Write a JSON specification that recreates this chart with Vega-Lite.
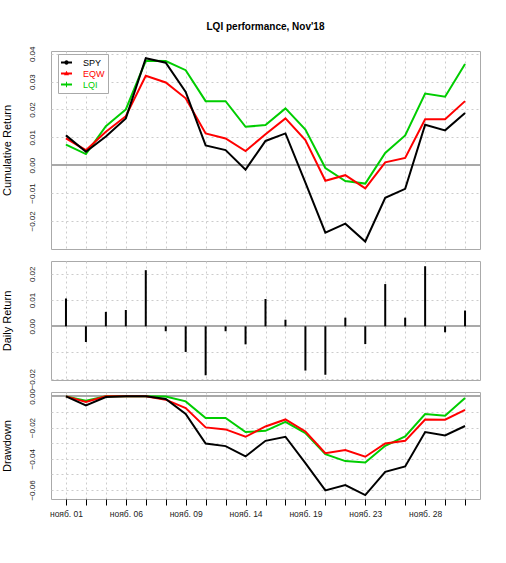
{
  "$schema": "https://vega.github.io/schema/vega-lite/v6.json",
  "autosize": {"type": "pad"},
  "padding": {"left": 0, "top": 22, "right": 5, "bottom": 5},
  "bounds": "flush",
  "spacing": 12,
  "title": {"text": "LQI performance, Nov'18", "fontSize": 10, "fontWeight": "bold", "anchor": "middle", "frame": "group", "offset": 13, "color": "#000000"},
  "datasets": {
    "cum": [
      {"d": "нояб. 01", "s": "LQI", "v": 0.0074}, {"d": "нояб. 02", "s": "LQI", "v": 0.004}, {"d": "нояб. 05", "s": "LQI", "v": 0.014}, {"d": "нояб. 06", "s": "LQI", "v": 0.02}, {"d": "нояб. 07", "s": "LQI", "v": 0.0375}, {"d": "нояб. 08", "s": "LQI", "v": 0.0374}, {"d": "нояб. 09", "s": "LQI", "v": 0.0341}, {"d": "нояб. 12", "s": "LQI", "v": 0.023}, {"d": "нояб. 13", "s": "LQI", "v": 0.023}, {"d": "нояб. 14", "s": "LQI", "v": 0.0138}, {"d": "нояб. 15", "s": "LQI", "v": 0.0144}, {"d": "нояб. 16", "s": "LQI", "v": 0.0204}, {"d": "нояб. 19", "s": "LQI", "v": 0.0128}, {"d": "нояб. 20", "s": "LQI", "v": -0.001}, {"d": "нояб. 21", "s": "LQI", "v": -0.0057}, {"d": "нояб. 23", "s": "LQI", "v": -0.0066}, {"d": "нояб. 26", "s": "LQI", "v": 0.0044}, {"d": "нояб. 27", "s": "LQI", "v": 0.0107}, {"d": "нояб. 28", "s": "LQI", "v": 0.0257}, {"d": "нояб. 29", "s": "LQI", "v": 0.0246}, {"d": "нояб. 30", "s": "LQI", "v": 0.0363},
      {"d": "нояб. 01", "s": "EQW", "v": 0.0096}, {"d": "нояб. 02", "s": "EQW", "v": 0.0054}, {"d": "нояб. 05", "s": "EQW", "v": 0.012}, {"d": "нояб. 06", "s": "EQW", "v": 0.0176}, {"d": "нояб. 07", "s": "EQW", "v": 0.0321}, {"d": "нояб. 08", "s": "EQW", "v": 0.0297}, {"d": "нояб. 09", "s": "EQW", "v": 0.024}, {"d": "нояб. 12", "s": "EQW", "v": 0.0114}, {"d": "нояб. 13", "s": "EQW", "v": 0.0096}, {"d": "нояб. 14", "s": "EQW", "v": 0.0051}, {"d": "нояб. 15", "s": "EQW", "v": 0.0111}, {"d": "нояб. 16", "s": "EQW", "v": 0.0168}, {"d": "нояб. 19", "s": "EQW", "v": 0.009}, {"d": "нояб. 20", "s": "EQW", "v": -0.0056}, {"d": "нояб. 21", "s": "EQW", "v": -0.0036}, {"d": "нояб. 23", "s": "EQW", "v": -0.0083}, {"d": "нояб. 26", "s": "EQW", "v": 0.001}, {"d": "нояб. 27", "s": "EQW", "v": 0.0026}, {"d": "нояб. 28", "s": "EQW", "v": 0.0165}, {"d": "нояб. 29", "s": "EQW", "v": 0.0165}, {"d": "нояб. 30", "s": "EQW", "v": 0.023},
      {"d": "нояб. 01", "s": "SPY", "v": 0.0107}, {"d": "нояб. 02", "s": "SPY", "v": 0.0048}, {"d": "нояб. 05", "s": "SPY", "v": 0.0103}, {"d": "нояб. 06", "s": "SPY", "v": 0.0168}, {"d": "нояб. 07", "s": "SPY", "v": 0.0384}, {"d": "нояб. 08", "s": "SPY", "v": 0.0368}, {"d": "нояб. 09", "s": "SPY", "v": 0.0263}, {"d": "нояб. 12", "s": "SPY", "v": 0.0071}, {"d": "нояб. 13", "s": "SPY", "v": 0.0054}, {"d": "нояб. 14", "s": "SPY", "v": -0.0016}, {"d": "нояб. 15", "s": "SPY", "v": 0.0087}, {"d": "нояб. 16", "s": "SPY", "v": 0.0114}, {"d": "нояб. 19", "s": "SPY", "v": -0.0063}, {"d": "нояб. 20", "s": "SPY", "v": -0.0242}, {"d": "нояб. 21", "s": "SPY", "v": -0.021}, {"d": "нояб. 23", "s": "SPY", "v": -0.0274}, {"d": "нояб. 26", "s": "SPY", "v": -0.0117}, {"d": "нояб. 27", "s": "SPY", "v": -0.0085}, {"d": "нояб. 28", "s": "SPY", "v": 0.0145}, {"d": "нояб. 29", "s": "SPY", "v": 0.0125}, {"d": "нояб. 30", "s": "SPY", "v": 0.0187}
    ],
    "daily": [
      {"d": "нояб. 01", "v": 0.0106}, {"d": "нояб. 02", "v": -0.006}, {"d": "нояб. 05", "v": 0.0055}, {"d": "нояб. 06", "v": 0.0062}, {"d": "нояб. 07", "v": 0.0214}, {"d": "нояб. 08", "v": -0.0019}, {"d": "нояб. 09", "v": -0.0098}, {"d": "нояб. 12", "v": -0.0187}, {"d": "нояб. 13", "v": -0.0019}, {"d": "нояб. 14", "v": -0.0069}, {"d": "нояб. 15", "v": 0.0104}, {"d": "нояб. 16", "v": 0.0025}, {"d": "нояб. 19", "v": -0.0169}, {"d": "нояб. 20", "v": -0.0185}, {"d": "нояб. 21", "v": 0.0033}, {"d": "нояб. 23", "v": -0.0068}, {"d": "нояб. 26", "v": 0.0161}, {"d": "нояб. 27", "v": 0.0033}, {"d": "нояб. 28", "v": 0.0229}, {"d": "нояб. 29", "v": -0.0023}, {"d": "нояб. 30", "v": 0.006}
    ],
    "dd": [
      {"d": "нояб. 01", "s": "LQI", "v": 0}, {"d": "нояб. 02", "s": "LQI", "v": -0.0028}, {"d": "нояб. 05", "s": "LQI", "v": 0}, {"d": "нояб. 06", "s": "LQI", "v": 0}, {"d": "нояб. 07", "s": "LQI", "v": 0}, {"d": "нояб. 08", "s": "LQI", "v": -0.0001}, {"d": "нояб. 09", "s": "LQI", "v": -0.0032}, {"d": "нояб. 12", "s": "LQI", "v": -0.0139}, {"d": "нояб. 13", "s": "LQI", "v": -0.0139}, {"d": "нояб. 14", "s": "LQI", "v": -0.0229}, {"d": "нояб. 15", "s": "LQI", "v": -0.0221}, {"d": "нояб. 16", "s": "LQI", "v": -0.0163}, {"d": "нояб. 19", "s": "LQI", "v": -0.0235}, {"d": "нояб. 20", "s": "LQI", "v": -0.037}, {"d": "нояб. 21", "s": "LQI", "v": -0.0415}, {"d": "нояб. 23", "s": "LQI", "v": -0.0424}, {"d": "нояб. 26", "s": "LQI", "v": -0.0317}, {"d": "нояб. 27", "s": "LQI", "v": -0.0257}, {"d": "нояб. 28", "s": "LQI", "v": -0.0113}, {"d": "нояб. 29", "s": "LQI", "v": -0.0124}, {"d": "нояб. 30", "s": "LQI", "v": -0.0011},
      {"d": "нояб. 01", "s": "EQW", "v": 0}, {"d": "нояб. 02", "s": "EQW", "v": -0.0036}, {"d": "нояб. 05", "s": "EQW", "v": 0}, {"d": "нояб. 06", "s": "EQW", "v": 0}, {"d": "нояб. 07", "s": "EQW", "v": 0}, {"d": "нояб. 08", "s": "EQW", "v": -0.0021}, {"d": "нояб. 09", "s": "EQW", "v": -0.0075}, {"d": "нояб. 12", "s": "EQW", "v": -0.0199}, {"d": "нояб. 13", "s": "EQW", "v": -0.0212}, {"d": "нояб. 14", "s": "EQW", "v": -0.0259}, {"d": "нояб. 15", "s": "EQW", "v": -0.0193}, {"d": "нояб. 16", "s": "EQW", "v": -0.0148}, {"d": "нояб. 19", "s": "EQW", "v": -0.0225}, {"d": "нояб. 20", "s": "EQW", "v": -0.0364}, {"d": "нояб. 21", "s": "EQW", "v": -0.0344}, {"d": "нояб. 23", "s": "EQW", "v": -0.0387}, {"d": "нояб. 26", "s": "EQW", "v": -0.0302}, {"d": "нояб. 27", "s": "EQW", "v": -0.0285}, {"d": "нояб. 28", "s": "EQW", "v": -0.0148}, {"d": "нояб. 29", "s": "EQW", "v": -0.015}, {"d": "нояб. 30", "s": "EQW", "v": -0.0086},
      {"d": "нояб. 01", "s": "SPY", "v": 0}, {"d": "нояб. 02", "s": "SPY", "v": -0.0058}, {"d": "нояб. 05", "s": "SPY", "v": -0.0004}, {"d": "нояб. 06", "s": "SPY", "v": 0}, {"d": "нояб. 07", "s": "SPY", "v": 0}, {"d": "нояб. 08", "s": "SPY", "v": -0.0017}, {"d": "нояб. 09", "s": "SPY", "v": -0.0113}, {"d": "нояб. 12", "s": "SPY", "v": -0.0302}, {"d": "нояб. 13", "s": "SPY", "v": -0.0319}, {"d": "нояб. 14", "s": "SPY", "v": -0.0385}, {"d": "нояб. 15", "s": "SPY", "v": -0.0285}, {"d": "нояб. 16", "s": "SPY", "v": -0.0259}, {"d": "нояб. 19", "s": "SPY", "v": -0.0428}, {"d": "нояб. 20", "s": "SPY", "v": -0.0603}, {"d": "нояб. 21", "s": "SPY", "v": -0.0569}, {"d": "нояб. 23", "s": "SPY", "v": -0.0633}, {"d": "нояб. 26", "s": "SPY", "v": -0.0484}, {"d": "нояб. 27", "s": "SPY", "v": -0.0449}, {"d": "нояб. 28", "s": "SPY", "v": -0.0229}, {"d": "нояб. 29", "s": "SPY", "v": -0.025}, {"d": "нояб. 30", "s": "SPY", "v": -0.019}
    ]
  },
  "vconcat": [
    {
      "width": 429,
      "height": 198,
      "data": {"name": "cum"},
      "encoding": {
        "y": {"field": "v", "type": "quantitative", "scale": {"domain": [-0.0301, 0.041], "nice": false, "zero": false}, "axis": {"title": "Cumulative Return", "values": [-0.02, -0.01, 0, 0.01, 0.02, 0.03, 0.04], "format": ".2f"}}
      },
      "layer": [
        {
          "mark": {"type": "rule", "color": "#aaaaaa", "strokeWidth": 1},
          "encoding": {"y": {"datum": 0, "type": "quantitative", "scale": {"domain": [-0.0301, 0.041], "nice": false, "zero": false}, "axis": {"title": "Cumulative Return", "values": [-0.02, -0.01, 0, 0.01, 0.02, 0.03, 0.04], "format": ".2f"}}}
        },
        {
          "mark": {"type": "point", "filled": true, "size": 1},
          "encoding": {
            "x": {"field": "d", "type": "ordinal", "sort": null, "scale": {"type": "point", "padding": 0.75}, "axis": {"title": null, "labels": false, "ticks": false, "domain": false, "grid": true}},
            "color": {"field": "s", "type": "nominal", "scale": {"domain": ["SPY", "EQW", "LQI"], "range": ["#000000", "#ff0000", "#00cd00"]}, "legend": {"title": null, "orient": "none", "legendX": 7, "legendY": 3, "labelColor": {"expr": "datum.value == 'SPY' ? '#000000' : datum.value == 'EQW' ? '#ff0000' : '#00cd00'"}}},
            "shape": {"field": "s", "type": "nominal", "scale": {"domain": ["SPY", "EQW", "LQI"], "range": ["M-1,-0.18H1V0.18H-1Z M-0.4,0A0.4,0.4 0 1,1 0.4,0A0.4,0.4 0 1,1 -0.4,0Z", "M-1,-0.18H1V0.18H-1Z M0,-0.5L0.45,0.3L-0.45,0.3Z", "M-1,-0.18H1V0.18H-1Z M-0.09,-0.5H0.09V0.5H-0.09Z"]}, "legend": {"title": null, "orient": "none", "legendX": 7, "legendY": 3, "labelColor": {"expr": "datum.value == 'SPY' ? '#000000' : datum.value == 'EQW' ? '#ff0000' : '#00cd00'"}}}
          }
        },
        {
          "mark": {"type": "line", "strokeWidth": 2},
          "encoding": {
            "x": {"field": "d", "type": "ordinal", "sort": null, "scale": {"type": "point", "padding": 0.75}, "axis": {"title": null, "labels": false, "ticks": false, "domain": false, "grid": true}},
            "stroke": {"field": "s", "type": "nominal", "scale": {"domain": ["SPY", "EQW", "LQI"], "range": ["#000000", "#ff0000", "#00cd00"]}, "legend": null}
          }
        }
      ]
    },
    {
      "width": 429,
      "height": 119,
      "data": {"name": "daily"},
      "encoding": {
        "y": {"field": "v", "type": "quantitative", "scale": {"domain": [-0.0205, 0.0249], "nice": false, "zero": false}, "axis": {"title": "Daily Return", "values": [-0.02, -0.01, 0, 0.01, 0.02], "labelExpr": "abs(datum.value + 0.01) < 0.001 ? '' : format(datum.value, '.2f')"}}
      },
      "layer": [
        {
          "mark": {"type": "rule", "color": "#aaaaaa", "strokeWidth": 1},
          "encoding": {"y": {"datum": 0, "type": "quantitative", "scale": {"domain": [-0.0205, 0.0249], "nice": false, "zero": false}, "axis": {"title": "Daily Return", "values": [-0.02, -0.01, 0, 0.01, 0.02], "labelExpr": "abs(datum.value + 0.01) < 0.001 ? '' : format(datum.value, '.2f')"}}}
        },
        {
          "mark": {"type": "rule", "strokeWidth": 2, "color": "#000000"},
          "encoding": {
            "x": {"field": "d", "type": "ordinal", "sort": null, "scale": {"type": "point", "padding": 0.75}, "axis": {"title": null, "labels": false, "ticks": false, "domain": false, "grid": true}},
            "y2": {"datum": 0}
          }
        }
      ]
    },
    {
      "width": 429,
      "height": 107,
      "data": {"name": "dd"},
      "encoding": {
        "y": {"field": "v", "type": "quantitative", "scale": {"domain": [-0.0658, 0.0028], "nice": false, "zero": false}, "axis": {"title": "Drawdown", "values": [-0.06, -0.05, -0.04, -0.03, -0.02, -0.01, 0], "labelExpr": "abs(round(datum.value * 100)) % 2 == 0 ? format(datum.value, '.2f') : ''"}}
      },
      "layer": [
        {
          "mark": {"type": "rule", "color": "#aaaaaa", "strokeWidth": 1},
          "encoding": {"y": {"datum": 0, "type": "quantitative", "scale": {"domain": [-0.0658, 0.0028], "nice": false, "zero": false}, "axis": {"title": "Drawdown", "values": [-0.06, -0.05, -0.04, -0.03, -0.02, -0.01, 0], "labelExpr": "abs(round(datum.value * 100)) % 2 == 0 ? format(datum.value, '.2f') : ''"}}}
        },
        {
          "mark": {"type": "line", "strokeWidth": 2},
          "encoding": {
            "x": {"field": "d", "type": "ordinal", "sort": null, "scale": {"type": "point", "padding": 0.75}, "axis": {"title": null, "labels": true, "ticks": true, "domain": false, "grid": true, "labelAngle": 0, "labelOverlap": false, "labelExpr": "indexof(['нояб. 01','нояб. 06','нояб. 09','нояб. 14','нояб. 19','нояб. 23','нояб. 28'], datum.value) >= 0 ? datum.value : ''"}},
            "stroke": {"field": "s", "type": "nominal", "scale": {"domain": ["SPY", "EQW", "LQI"], "range": ["#000000", "#ff0000", "#00cd00"]}, "legend": null}
          }
        }
      ]
    }
  ],
  "config": {
    "font": "Liberation Sans",
    "view": {"stroke": "#aaaaaa", "strokeWidth": 1},
    "axis": {"gridColor": "#cccccc", "gridDash": [2, 3], "gridWidth": 1, "labelColor": "#222222", "titleColor": "#000000", "titleFontWeight": "normal"},
    "axisY": {"labelAngle": -90, "labelAlign": "center", "labelBaseline": "bottom", "labelPadding": 15, "ticks": false, "tickSize": 0, "domain": false, "labelFontSize": 8, "titleFontSize": 11, "titleX": -44, "titleBaseline": "middle", "labelOverlap": false},
    "axisX": {"labelFontSize": 8.5, "tickColor": "#000000", "tickSize": 6, "tickWidth": 1, "labelPadding": 4},
    "legend": {"strokeColor": "#aaaaaa", "fillColor": "#ffffff", "padding": 3, "symbolSize": 121, "symbolOpacity": 1, "symbolStrokeWidth": 0, "labelFontSize": 9, "rowPadding": 0, "labelOffset": 11, "cornerRadius": 0}
  }
}
